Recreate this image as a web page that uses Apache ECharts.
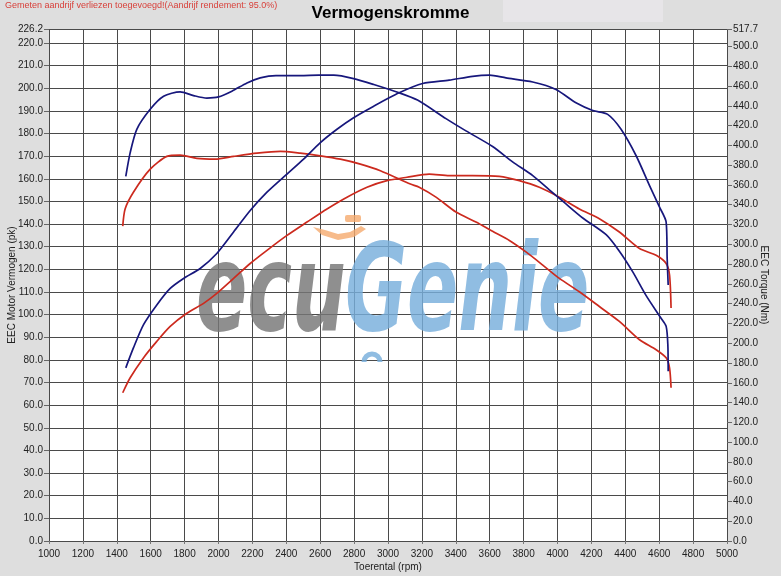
<!DOCTYPE html>
<html>
<head>
<meta charset="utf-8">
<script src="https://cdn.jsdelivr.net/npm/echarts@6/dist/echarts.min.js"></script>
<style>
html,body{margin:0;padding:0;background:#dedede;}
#c{width:781px;height:576px;}
</style>
</head>
<body>
<div id="c"></div>
<script>
// ---- data ----
const titleText = 'Vermogenskromme';
const noteText = 'Gemeten aandrijf verliezen toegevoegd!(Aandrijf rendement: 95.0%)';
const xAxisName = 'Toerental (rpm)';
const leftAxisName = 'EEC Motor Vermogen (pk)';
const rightAxisName = 'EEC Torque (Nm)';

const bluePowerRpm = [1453,1498,1557,1636,1715,1794,1892,1990,2089,2187,2286,2404,2502,2601,2699,2797,2916,3066,3204,3361,3499,3598,3696,3854,3991,4109,4208,4296,4375,4464,4543,4602,4641,4647,4653];
const bluePowerPk = [76.5,85.3,95.5,104.3,111.6,116.0,120.4,127.0,136.5,146.0,154.1,162.1,168.7,176.0,181.9,187.0,192.1,198.0,202.1,203.6,205.3,205.8,204.6,202.8,199.5,193.6,190.2,188.5,181.9,170.2,157.0,147.5,140.9,124.8,113.1];

const blueTorqueRpm = [1453,1479,1518,1597,1676,1774,1853,1931,2000,2079,2168,2246,2339,2483,2591,2680,2797,2916,3066,3174,3342,3460,3617,3735,3854,3952,4050,4149,4287,4365,4444,4523,4611,4641,4651,4653];
const blueTorqueNm = [368.7,392.7,416.3,436.5,449.7,454.1,450.4,447.9,449.0,454.8,463.2,468.3,470.6,470.6,471.0,471.0,467.6,461.6,453.2,445.8,427.1,414.7,398.9,383.4,369.4,355.0,340.8,326.6,309.7,293.0,272.1,248.1,225.2,217.0,198.4,171.7];

const redPowerRpm = [1435,1479,1557,1636,1715,1813,1912,1990,2089,2187,2286,2404,2522,2640,2758,2876,2994,3112,3243,3361,3499,3657,3775,3893,4011,4129,4247,4365,4484,4582,4641,4661,4670];
const redPowerPk = [65.5,72.1,80.9,88.2,94.8,100.6,105.0,109.4,116.0,122.6,128.4,135.0,140.9,146.7,151.9,156.3,159.2,160.7,162.1,161.4,161.4,161.1,159.2,156.3,151.9,146.7,142.4,136.5,129.2,126.2,122.6,117.5,102.9];

const redTorqueRpm = [1435,1449,1498,1597,1695,1774,1872,1981,2089,2227,2365,2483,2601,2719,2837,2955,3132,3184,3283,3401,3519,3617,3716,3814,3913,4011,4129,4247,4365,4484,4582,4641,4661,4670];
const redTorqueNm = [318.4,335.8,352.7,376.0,388.9,390.2,386.8,386.1,388.9,392.1,393.9,392.1,389.5,386.1,381.1,374.4,360.9,357.7,347.7,332.6,322.5,313.1,303.9,292.3,279.0,265.5,252.0,237.1,222.0,203.5,193.4,185.2,175.1,154.9];

const xMin = 1000, xMax = 5000, xStep = 200;
const leftMax = 226.2, leftStep = 10;
const rightMax = 517.7, rightStep = 20;

// ---- chart ----
const pairs = (xs, ys) => xs.map((x, i) => [x, ys[i]]);
const BLUE = '#17177c', RED = '#cc2a1e';
const FONT = '"Liberation Sans", Arial, sans-serif';
const WM_FONT = 'italic bold 84px "DejaVu Sans Condensed", sans-serif';
const WM_BLUE = 'rgba(120,175,220,0.82)';

const chart = echarts.init(document.getElementById('c'), null, {renderer: 'canvas'});

function lineSeries(name, data, color, yIdx) {
  return {
    name, type: 'line', yAxisIndex: yIdx, data,
    showSymbol: false, smooth: 0.25,
    lineStyle: {color, width: 1.7}, itemStyle: {color}, z: 5
  };
}

chart.setOption({
  backgroundColor: '#dedede',
  animation: false,
  textStyle: {fontFamily: FONT},
  title: {
    text: titleText, left: 'center', top: 0,
    textStyle: {fontSize: 17, fontWeight: 'bold', color: '#000', fontFamily: FONT}
  },
  graphic: [
    {type: 'rect', shape: {x: 503, y: 0, width: 160, height: 22}, style: {fill: '#e7e5e8'}, z: -1},
    {type: 'text', x: 5, y: 1, style: {text: noteText, fill: '#d8403a', font: '9px ' + FONT}},
    {type: 'text', x: 196, y: 359, scaleY: 1.45, style: {text: 'ecu', fill: 'rgba(118,118,118,0.82)', font: WM_FONT, verticalAlign: 'bottom'}, z: 1},
    {type: 'text', x: 345, y: 359, scaleY: 1.45, style: {text: 'Genie', fill: WM_BLUE, font: WM_FONT, verticalAlign: 'bottom'}, z: 1},
    {type: 'polygon', shape: {points: [[313,227],[322,235],[338,240],[354,237],[366,229],[361,226],[350,232],[338,234],[325,230]]}, style: {fill: 'rgba(245,170,110,0.8)'}, z: 1},
    {type: 'rect', shape: {x: 345, y: 215, width: 16, height: 7, r: 2}, style: {fill: 'rgba(245,170,110,0.8)'}, z: 1},
    {type: 'arc', shape: {cx: 372, cy: 362, r: 8, startAngle: Math.PI, endAngle: 2 * Math.PI, clockwise: true}, style: {stroke: WM_BLUE, lineWidth: 5, fill: null}, z: 1}
  ],
  grid: {
    left: 49, right: 54, top: 29, bottom: 35,
    outerBoundsMode: 'none', containLabel: false,
    show: true, backgroundColor: '#ffffff', borderWidth: 0
  },
  xAxis: {
    type: 'value', min: xMin, max: xMax, interval: xStep,
    name: xAxisName, nameLocation: 'middle', nameGap: 21, nameMoveOverlap: false,
    nameTextStyle: {fontSize: 10, color: '#222', fontFamily: FONT},
    axisLine: {show: false},
    axisTick: {show: true, length: 3, lineStyle: {color: '#777'}},
    axisLabel: {fontSize: 10, color: '#222', margin: 8, formatter: v => String(v), fontFamily: FONT},
    splitLine: {show: true, lineStyle: {color: '#4a4a4a', width: 1}}
  },
  yAxis: [
    {
      type: 'value', min: 0, max: leftMax, interval: leftStep,
      name: leftAxisName, nameLocation: 'middle', nameGap: 32, nameRotate: 90, nameMoveOverlap: false,
      nameTextStyle: {fontSize: 10, color: '#222', fontFamily: FONT},
      axisLine: {show: false},
      axisTick: {show: true, length: 5, lineStyle: {color: '#666'}},
      axisLabel: {fontSize: 10, color: '#222', margin: 6, formatter: v => v.toFixed(1), fontFamily: FONT},
      splitLine: {show: true, lineStyle: {color: '#4a4a4a', width: 1}}
    },
    {
      type: 'value', min: 0, max: rightMax, interval: rightStep, position: 'right',
      name: rightAxisName, nameLocation: 'middle', nameGap: 32, nameRotate: -90, nameMoveOverlap: false,
      nameTextStyle: {fontSize: 10, color: '#222', fontFamily: FONT},
      axisLine: {show: false},
      axisTick: {show: true, length: 5, lineStyle: {color: '#666'}},
      axisLabel: {fontSize: 10, color: '#222', margin: 6, formatter: v => v.toFixed(1), fontFamily: FONT},
      splitLine: {show: false}
    }
  ],
  series: [
    lineSeries('Vermogen 2', pairs(redPowerRpm, redPowerPk), RED, 0),
    lineSeries('Torque 2', pairs(redTorqueRpm, redTorqueNm), RED, 1),
    lineSeries('Vermogen 1', pairs(bluePowerRpm, bluePowerPk), BLUE, 0),
    lineSeries('Torque 1', pairs(blueTorqueRpm, blueTorqueNm), BLUE, 1)
  ]
});
</script>
</body>
</html>
